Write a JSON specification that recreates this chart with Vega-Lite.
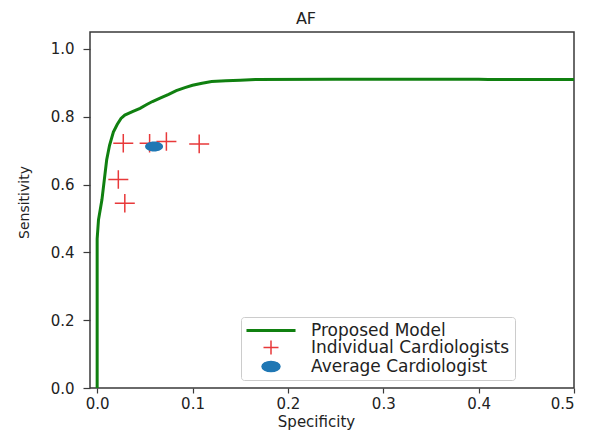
{
  "$schema": "https://vega.github.io/schema/vega-lite/v6.json",
  "width": 484,
  "height": 356,
  "autosize": {"type": "none"},
  "padding": {"left": 90, "top": 32, "right": 18, "bottom": 45},
  "background": "white",
  "config": {
    "font": "DejaVu Sans",
    "view": {"stroke": "#3a3a3a", "strokeWidth": 1.5},
    "axis": {
      "grid": false,
      "domain": false,
      "tickColor": "#3a3a3a",
      "tickWidth": 1.2,
      "labelColor": "#222222",
      "titleColor": "#222222",
      "labelFont": "DejaVu Sans",
      "titleFont": "DejaVu Sans",
      "labelFontSize": 15,
      "titleFontSize": 15,
      "titleFontWeight": "normal"
    },
    "legend": {
      "title": null,
      "orient": "none",
      "direction": "vertical",
      "legendX": 151,
      "legendY": 285,
      "padding": 5,
      "strokeColor": "#cccccc",
      "fillColor": "white",
      "cornerRadius": 3,
      "labelFontSize": 17,
      "labelFont": "DejaVu Sans",
      "labelColor": "#222222",
      "labelLimit": 400,
      "symbolSize": 225,
      "symbolStrokeWidth": 1.5,
      "symbolOffset": 16.5,
      "labelOffset": 31.5,
      "rowPadding": -2,
      "symbolOpacity": 1
    }
  },
  "title": {"text": "AF", "fontSize": 16, "fontWeight": "normal", "font": "DejaVu Sans", "color": "#222222", "offset": 5, "dx": -26, "anchor": "middle"},
  "datasets": {
    "curve": [
      {"specificity": 0.0, "sensitivity": 0.0, "series": "Proposed Model"},
      {"specificity": 0.0, "sensitivity": 0.44, "series": "Proposed Model"},
      {"specificity": 0.0014, "sensitivity": 0.496, "series": "Proposed Model"},
      {"specificity": 0.005, "sensitivity": 0.555, "series": "Proposed Model"},
      {"specificity": 0.0075, "sensitivity": 0.614, "series": "Proposed Model"},
      {"specificity": 0.010, "sensitivity": 0.673, "series": "Proposed Model"},
      {"specificity": 0.013, "sensitivity": 0.716, "series": "Proposed Model"},
      {"specificity": 0.017, "sensitivity": 0.755, "series": "Proposed Model"},
      {"specificity": 0.021, "sensitivity": 0.777, "series": "Proposed Model"},
      {"specificity": 0.025, "sensitivity": 0.795, "series": "Proposed Model"},
      {"specificity": 0.029, "sensitivity": 0.805, "series": "Proposed Model"},
      {"specificity": 0.037, "sensitivity": 0.815, "series": "Proposed Model"},
      {"specificity": 0.045, "sensitivity": 0.825, "series": "Proposed Model"},
      {"specificity": 0.052, "sensitivity": 0.836, "series": "Proposed Model"},
      {"specificity": 0.058, "sensitivity": 0.845, "series": "Proposed Model"},
      {"specificity": 0.066, "sensitivity": 0.855, "series": "Proposed Model"},
      {"specificity": 0.075, "sensitivity": 0.866, "series": "Proposed Model"},
      {"specificity": 0.083, "sensitivity": 0.877, "series": "Proposed Model"},
      {"specificity": 0.092, "sensitivity": 0.886, "series": "Proposed Model"},
      {"specificity": 0.100, "sensitivity": 0.893, "series": "Proposed Model"},
      {"specificity": 0.110, "sensitivity": 0.899, "series": "Proposed Model"},
      {"specificity": 0.120, "sensitivity": 0.904, "series": "Proposed Model"},
      {"specificity": 0.135, "sensitivity": 0.906, "series": "Proposed Model"},
      {"specificity": 0.150, "sensitivity": 0.908, "series": "Proposed Model"},
      {"specificity": 0.166, "sensitivity": 0.910, "series": "Proposed Model"},
      {"specificity": 0.250, "sensitivity": 0.911, "series": "Proposed Model"},
      {"specificity": 0.400, "sensitivity": 0.911, "series": "Proposed Model"},
      {"specificity": 0.410, "sensitivity": 0.910, "series": "Proposed Model"},
      {"specificity": 0.500, "sensitivity": 0.910, "series": "Proposed Model"}
    ],
    "cardiologists": [
      {"specificity": 0.0274, "sensitivity": 0.722, "series": "Individual Cardiologists"},
      {"specificity": 0.055, "sensitivity": 0.722, "series": "Individual Cardiologists"},
      {"specificity": 0.0726, "sensitivity": 0.727, "series": "Individual Cardiologists"},
      {"specificity": 0.107, "sensitivity": 0.720, "series": "Individual Cardiologists"},
      {"specificity": 0.0222, "sensitivity": 0.615, "series": "Individual Cardiologists"},
      {"specificity": 0.029, "sensitivity": 0.545, "series": "Individual Cardiologists"}
    ],
    "average": [
      {"specificity": 0.0597, "sensitivity": 0.712, "series": "Average Cardiologist"}
    ]
  },
  "encoding": {
    "x": {
      "field": "specificity", "type": "quantitative",
      "scale": {"domain": [-0.0075, 0.5], "nice": false, "zero": false},
      "axis": {"title": "Specificity", "values": [0, 0.1, 0.2, 0.3, 0.4, 0.5], "format": ".1f", "tickSize": 5, "labelPadding": 3, "titlePadding": 3, "titleX": 226}
    },
    "y": {
      "field": "sensitivity", "type": "quantitative",
      "scale": {"domain": [0, 1.05], "nice": false, "zero": false},
      "axis": {"title": "Sensitivity", "values": [0, 0.2, 0.4, 0.6, 0.8, 1.0], "format": ".1f", "tickSize": 7, "labelPadding": 9, "titlePadding": 19, "titleFontSize": 14, "titleY": 170}
    },
    "color": {
      "field": "series", "type": "nominal",
      "scale": {"domain": ["Proposed Model", "Individual Cardiologists", "Average Cardiologist"], "range": ["#108010", "#e8393a", "#1f77b4"]}
    }
  },
  "layer": [
    {
      "data": {"name": "curve"},
      "mark": {"type": "line", "strokeWidth": 3, "clip": true, "opacity": 1},
      "encoding": {"order": {"value": null}}
    },
    {
      "data": {"name": "cardiologists"},
      "mark": {"type": "point", "size": 400, "filled": false, "strokeWidth": 1.5, "opacity": 1},
      "encoding": {
        "shape": {
          "field": "series", "type": "nominal",
          "scale": {
            "domain": ["Proposed Model", "Individual Cardiologists", "Average Cardiologist"],
            "range": [
              "M-3.27,-0.1H3.27M-3.27,0H3.27M-3.27,0.1H3.27",
              "M-1,0H1M0,-0.93V0.93",
              "M-1.2,0A1.2,0.667 0 1,0 1.2,0A1.2,0.667 0 1,0 -1.2,0ZM-1.2,0H1.2M-1.18,0.133H1.18M-1.18,-0.133H1.18M-1.1,0.267H1.1M-1.1,-0.267H1.1M-0.96,0.4H0.96M-0.96,-0.4H0.96M-0.72,0.533H0.72M-0.72,-0.533H0.72"
            ]
          }
        }
      }
    },
    {
      "data": {"name": "average"},
      "mark": {"type": "point", "size": 225, "filled": true, "strokeWidth": 0, "opacity": 1},
      "encoding": {
        "shape": {
          "field": "series", "type": "nominal",
          "scale": {
            "domain": ["Proposed Model", "Individual Cardiologists", "Average Cardiologist"],
            "range": [
              "M-3.27,-0.1H3.27M-3.27,0H3.27M-3.27,0.1H3.27",
              "M-1,0H1M0,-0.93V0.93",
              "M-1.2,0A1.2,0.667 0 1,0 1.2,0A1.2,0.667 0 1,0 -1.2,0ZM-1.2,0H1.2M-1.18,0.133H1.18M-1.18,-0.133H1.18M-1.1,0.267H1.1M-1.1,-0.267H1.1M-0.96,0.4H0.96M-0.96,-0.4H0.96M-0.72,0.533H0.72M-0.72,-0.533H0.72"
            ]
          }
        }
      }
    }
  ]
}
